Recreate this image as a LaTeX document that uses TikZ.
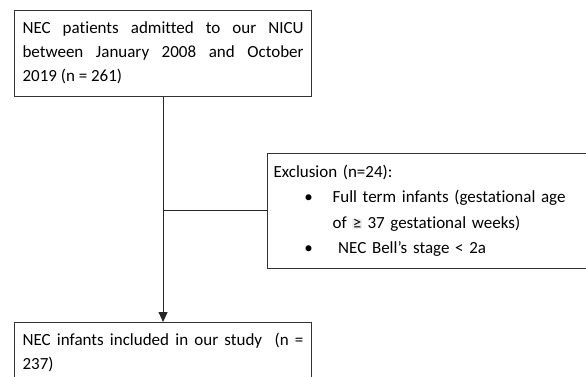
\documentclass[tikz,border=0pt]{standalone}
\usepackage{fontspec}
\setmainfont{Carlito}[Ligatures=NoCommon]
\usetikzlibrary{arrows.meta}

\newcommand{\exbullet}{\hspace*{30pt}\makebox[10pt]{\textbullet}\hspace{19pt}}

\begin{document}
\begin{tikzpicture}[x=1pt, y=-1pt,
    flowbox/.style={draw=black!80, line width=1.1pt, anchor=north west,
      font=\fontsize{17pt}{24pt}\selectfont, inner xsep=8pt},
    link/.style={draw=black!85, line width=1.1pt}]

    % Frame
    \useasboundingbox (0, 0) rectangle (586, 376);
    \clip (0, 0) rectangle (586, 376);

    % Boxes
    \node[flowbox, text width=281pt, align=justify, inner ysep=7pt]
      (admitted) at (14, 9.5)
      {\strut NEC patients admitted to our NICU\linebreak between January
      2008 and October\linebreak 2019 (n~=~261)\strut};
    \node[flowbox, text width=318pt, align=left, inner xsep=6pt,
      inner ysep=6.5pt, font=\fontsize{17pt}{25.5pt}\selectfont]
      (excluded) at (267, 152.5)
      {\strut Exclusion (n=24):\\
      \exbullet Full term infants (gestational age\\
      \hspace*{59pt}of {\setlength{\fboxsep}{0.5pt}\colorbox{black!7}{≥}}
      37 gestational weeks)\\
      \exbullet\ NEC Bell's stage < 2a\strut};
    \node[flowbox, text width=281pt, align=justify, inner ysep=6.2pt]
      (included) at (14, 322)
      {\strut NEC infants included in our study\ \ (n~=\linebreak 237)\strut};

    % Lines
    \draw[link, -{Triangle[length=10pt, width=9pt]}] (admitted) -- (included);
    \draw[link] (admitted.south |- excluded.west) -- (excluded.west);

\end{tikzpicture}
\end{document}
